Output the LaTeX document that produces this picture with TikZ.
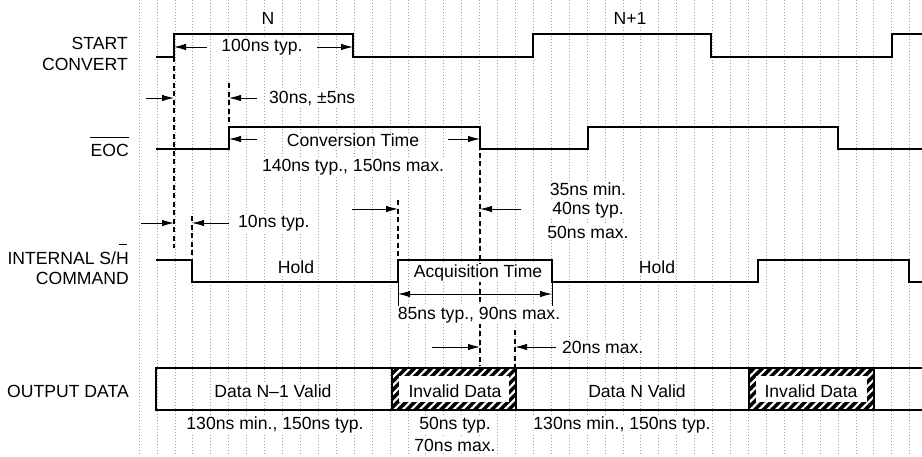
\documentclass[tikz,border=0pt]{standalone}
\usepackage{fontspec}
\setmainfont{Liberation Sans}
\usetikzlibrary{arrows.meta,patterns.meta}
\begin{document}
\begin{tikzpicture}[x=1pt,y=-1pt,
  gridline/.style={gray!75,line width=0.6pt,dash pattern=on 0.8pt off 2.2pt},
  signal/.style={line width=2.5pt,line join=miter},
  dashmark/.style={line width=1.3pt,dash pattern=on 5pt off 3.5pt},
  dimarrow/.style={line width=0.9pt,-{Latex[length=12pt,width=6.5pt]}},
  dimboth/.style={line width=0.9pt,{Latex[length=12pt,width=6.5pt]}-{Latex[length=12pt,width=6.5pt]}},
  tick/.style={line width=0.9pt},
  lbl/.style={inner sep=1pt,fill=white,font=\fontsize{17.6}{20}\selectfont},
  rowlbl/.style={lbl,anchor=east,align=right},
  databox/.style={line width=2pt},
  hatchfill/.style={pattern={Lines[angle=45,distance=6pt,line width=2.2pt]},pattern color=white}
]
\useasboundingbox (0,0) rectangle (922,456);
\fill[white] (0,0) rectangle (922,456);
% background grid
\foreach \k in {0,...,43} \draw[gridline] ({139+17.92*\k},0) -- ({139+17.92*\k},456);

% row labels
\node[rowlbl] (lstart) at (129,43) {START};
\node[rowlbl] (lconv) at (129,64) {CONVERT};
\node[rowlbl] (leoc) at (130,150) {EOC};
\draw[line width=1pt] ([xshift=1pt,yshift=5pt]leoc.north west) -- ([xshift=-1pt,yshift=5pt]leoc.north east);
\node[rowlbl] (lsh) at (130,258) {INTERNAL S/H};
\draw[line width=1pt] ([xshift=-11pt,yshift=6pt]lsh.north east) -- ([xshift=-3pt,yshift=6pt]lsh.north east);
\node[rowlbl] (lcmd) at (130,278) {COMMAND};
\node[rowlbl] (lout) at (130,391) {OUTPUT DATA};

% cycle labels
\node[lbl] (cn) at (268,18) {N};
\node[lbl] (cn1) at (630,18) {N+1};

% signals
\draw[signal] (156,57) -- (174,57) -- (174,34) -- (353,34) -- (353,57) -- (533,57) -- (533,34) -- (711,34) -- (711,57) -- (892,57) -- (892,34) -- (922,34);
\draw[signal] (156,149) -- (229,149) -- (229,127) -- (480,127) -- (480,149) -- (588,149) -- (588,127) -- (838,127) -- (838,149) -- (922,149);
\draw[signal] (156,260) -- (192,260) -- (192,282) -- (398,282) -- (398,260) -- (552,260) -- (552,282) -- (758,282) -- (758,260) -- (909,260) -- (909,282) -- (922,282);

% key coordinates
\coordinate (scr) at (174,57);
\coordinate (eocr) at (229,127);
\coordinate (eocf) at (480,127);
\coordinate (shf) at (192,260);
\coordinate (shr) at (398,260);

% dashed reference lines
\draw[dashmark] (scr) -- (174,248);
\draw[dashmark] (229,83) -- (eocr);
\draw[dashmark] (192,216) -- (shf);
\draw[dashmark] (398,200) -- (shr);
\draw[dashmark] (eocf) -- (480,366);
\draw[dashmark] (515,330) -- (515,368);

% arrows (drawn before labels)
\coordinate (a100l) at (207,47);
\coordinate (a100r) at (317,47);
\draw[dimarrow] (a100l) -- (174,47);
\draw[dimarrow] (a100r) -- (353,47);
\coordinate (a30l) at (146,98);
\coordinate (a30r) at (257,98);
\draw[dimarrow] (a30l) -- (174,98);
\draw[dimarrow] (a30r) -- (229,98);
\coordinate (acvl) at (257,139);
\coordinate (acvr) at (448,139);
\draw[dimarrow] (acvl) -- (229,139);
\draw[dimarrow] (acvr) -- (480,139);
\coordinate (a35l) at (352,209);
\coordinate (a35r) at (521,209);
\draw[dimarrow] (a35l) -- (398,209);
\draw[dimarrow] (a35r) -- (480,209);
\coordinate (a10l) at (141,223);
\coordinate (a10r) at (229,223);
\draw[dimarrow] (a10l) -- (174,223);
\draw[dimarrow] (a10r) -- (192,223);
\draw[tick] (398,282) -- (398,306);
\draw[tick] (552,282) -- (552,306);
\draw[dimboth] (398,294) -- (552,294);
\coordinate (a20l) at (432,347);
\coordinate (a20r) at (556,347);
\draw[dimarrow] (a20l) -- (480,347);
\draw[dimarrow] (a20r) -- (515,347);

% labels
\node[lbl] (t100) at (262,47) {100ns typ.};
\node[lbl,anchor=west] (t30) at (268,98) {30ns, ±5ns};
\node[lbl] (tconv) at (353,140) {Conversion Time};
\node[lbl] (tconv2) at (353,167) {140ns typ., 150ns max.};
\node[lbl] (t35) at (588,189) {35ns min.};
\node[lbl] (t40) at (588,210) {40ns typ.};
\node[lbl] (t50) at (588,232) {50ns max.};
\node[lbl,anchor=west] (t10) at (237,223) {10ns typ.};
\node[lbl] (hold1) at (296,267) {Hold};
\node[lbl] (acq) at (478,273) {Acquisition Time};
\node[lbl] (hold2) at (657,267) {Hold};
\node[lbl] (t85) at (479,315) {85ns typ., 90ns max.};
\node[lbl,anchor=west] (t20) at (561,347) {20ns max.};

% output data
\foreach \a/\b in {392/516,749/874}{
  \fill[black] (\a,368) rectangle (\b,410);
  \fill[hatchfill] (\a,368) rectangle (\b,410);
  \fill[white] ({\a+7},376) rectangle ({\b-7},402);
}
\draw[databox] (922,368) -- (156,368) -- (156,410) -- (922,410);
\draw[databox] (392,368) -- (392,410);
\draw[databox] (516,368) -- (516,410);
\draw[databox] (749,368) -- (749,410);
\draw[databox] (874,368) -- (874,410);

\node[lbl] (dv1) at (273,391) {Data N–1 Valid};
\node[lbl] (inv1) at (455,391) {Invalid Data};
\node[lbl] (dv2) at (637,391) {Data N Valid};
\node[lbl] (inv2) at (811,391) {Invalid Data};
\node[lbl] (tm1) at (275,425) {130ns min., 150ns typ.};
\node[lbl] (t50b) at (455,425) {50ns typ.};
\node[lbl] (t70) at (455,445) {70ns max.};
\node[lbl] (tm2) at (622,425) {130ns min., 150ns typ.};
\end{tikzpicture}
\end{document}
